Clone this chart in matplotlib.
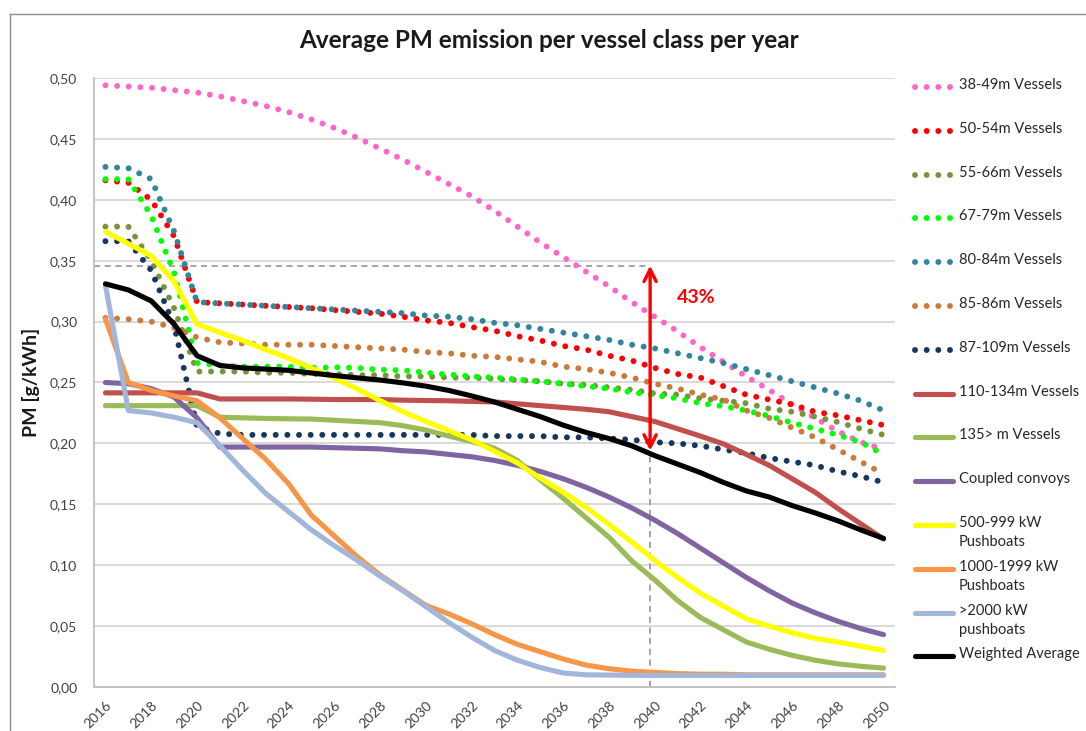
import numpy as np
import matplotlib
matplotlib.use("Agg")
from matplotlib import pyplot as plt
from matplotlib.lines import Line2D

plt.rcParams['font.family'] = ['Lato', 'DejaVu Sans']

years = list(range(2016, 2051))
tick_years = list(range(2016, 2051, 2))

# dotted series (vessel length classes)
v38_49 = [.494, .493, .492, .490, .488, .485, .481, .477, .472, .466,
          .459, .451, .442, .433, .423, .413, .403, .391, .378, .365,
          .353, .341, .329, .316, .304, .292, .279, .267, .255, .244,
          .232, .221, .210, .201, .195]
v50_54 = [.416, .414, .400, .370, .316, .315, .314, .313, .312, .311,
          .3095, .308, .3065, .304, .301, .299, .2955, .2925, .288, .2845,
          .280, .277, .272, .268, .262, .257, .254, .247, .240, .236,
          .232, .226, .223, .219, .215]
v55_66 = [.378, .378, .350, .311, .259, .259, .259, .258, .258, .257,
          .257, .256, .256, .255, .255, .254, .254, .253, .252, .251,
          .249, .248, .246, .244, .241, .240, .237, .235, .233, .2285,
          .226, .222, .2175, .212, .207]
v67_79 = [.417, .417, .387, .340, .266, .264, .263, .263, .263, .262,
          .2625, .262, .2605, .260, .258, .2565, .255, .254, .2525, .251,
          .249, .247, .245, .242, .2395, .237, .233, .2305, .227, .2225,
          .217, .212, .207, .201, .191]
v80_84 = [.427, .426, .417, .374, .316, .315, .314, .313, .312, .311,
          .310, .309, .308, .307, .305, .304, .302, .299, .297, .294,
          .291, .288, .285, .281, .278, .274, .270, .266, .261, .256,
          .251, .246, .241, .235, .227]
v85_86 = [.303, .302, .300, .295, .287, .283, .282, .281, .281, .281,
          .280, .279, .278, .277, .275, .274, .272, .271, .269, .267,
          .263, .261, .258, .254, .249, .245, .240, .236, .227, .221,
          .213, .205, .195, .185, .175]
v87_109 = [.366, .366, .342, .297, .214, .208, .207, .207, .207, .207,
           .207, .207, .207, .207, .207, .207, .207, .206, .206, .206,
           .205, .205, .204, .203, .201, .200, .198, .195, .192, .188,
           .185, .182, .177, .173, .168]

# solid series
v110_134 = [.2415, .2415, .2415, .2415, .2415, .2365, .2365, .2365, .2365, .2363,
            .236, .236, .236, .2355, .2352, .235, .2345, .234, .2325, .231,
            .2295, .228, .226, .222, .218, .212, .206, .1996, .191, .182,
            .171, .160, .1466, .134, .1215]
v135 = [.231, .231, .231, .231, .231, .2215, .221, .2205, .2202, .220,
        .219, .218, .217, .2145, .211, .206, .2015, .196, .186, .170,
        .155, .139, .123, .1035, .088, .071, .057, .047, .037, .031,
        .026, .022, .019, .017, .0155]
coupled = [.250, .249, .245, .238, .221, .197, .197, .197, .197, .197,
           .1965, .196, .1955, .194, .193, .191, .189, .186, .182, .177,
           .171, .164, .156, .147, .137, .126, .114, .102, .090, .079,
           .069, .061, .054, .048, .043]
push500 = [.374, .364, .354, .333, .298, .291, .2845, .277, .270, .262,
           .2535, .2447, .2352, .226, .218, .2105, .203, .1935, .184, .1715,
           .160, .1475, .1336, .119, .104, .090, .077, .0665, .056, .050,
           .0445, .040, .037, .0335, .030]
push1000 = [.302, .250, .2435, .239, .235, .221, .204, .187, .167, .141,
            .124, .107, .092, .0795, .067, .060, .052, .043, .035, .029,
            .023, .018, .015, .013, .012, .011, .0105, .0105, .010, .010,
            .010, .010, .010, .010, .010]
push2000 = [.330, .227, .225, .2215, .217, .198, .178, .159, .144, .129,
            .116, .104, .091, .079, .066, .053, .041, .030, .022, .016,
            .0115, .010, .0098, .0096, .0095, .0095, .0095, .0095, .0095, .0095,
            .0095, .0095, .0095, .0095, .0095]
weighted = [.331, .326, .317, .298, .272, .264, .262, .261, .260, .2578,
            .2557, .2538, .252, .2497, .247, .2435, .239, .234, .228, .222,
            .215, .209, .204, .198, .190, .183, .176, .168, .161, .156,
            .149, .143, .1365, .129, .122]

arrow_year = 2039.8
arrow_top = 0.346
arrow_bottom = 0.194

series = [
    ("38-49m Vessels", v38_49, '#FF66CC', 'dot'),
    ("50-54m Vessels", v50_54, '#FF0000', 'dot'),
    ("55-66m Vessels", v55_66, '#77933C', 'dot'),
    ("67-79m Vessels", v67_79, '#00FF00', 'dot'),
    ("80-84m Vessels", v80_84, '#31859C', 'dot'),
    ("85-86m Vessels", v85_86, '#CC7A3A', 'dot'),
    ("87-109m Vessels", v87_109, '#17375E', 'dot'),
    ("110-134m Vessels", v110_134, '#C0504D', 'solid'),
    ("135> m Vessels", v135, '#9BBB59', 'solid'),
    ("Coupled convoys", coupled, '#8064A2', 'solid'),
    ("500-999 kW\nPushboats", push500, '#FFFF00', 'solid'),
    ("1000-1999 kW\nPushboats", push1000, '#F79646', 'solid'),
    (">2000 kW\npushboats", push2000, '#A2B6D9', 'solid'),
    ("Weighted Average", weighted, '#000000', 'solid'),
]

W, H = 1086, 731
fig = plt.figure(figsize=(W / 100, H / 100), dpi=100)
ax = fig.add_axes([94 / W, 1 - 687 / H, (895 - 94) / W, (687 - 78) / H])


def style(color, kind):
    if kind == 'dot':
        return dict(color=color, lw=4.3, linestyle=(0, (0.001, 1.95)),
                    dash_capstyle='round', solid_capstyle='round')
    return dict(color=color, lw=3.7, solid_capstyle='round',
                solid_joinstyle='round')


for i, (name, vals, color, kind) in enumerate(series):
    ax.plot(years, vals, zorder=3 + i * 0.01, **style(color, kind))

ax.set_xlim(2015.5, 2050.5)
ax.set_ylim(0, 0.5)
yt = np.arange(0, 0.501, 0.05)
ax.set_yticks(yt)
ax.set_yticklabels([f"{v:.2f}".replace('.', ',') for v in yt])
ax.set_xticks(tick_years)
ax.set_xticklabels([str(y) for y in tick_years], rotation=45, ha='right',
                   va='top', rotation_mode='anchor')
ax.tick_params(axis='y', length=0, pad=12, labelsize=10, labelcolor='#404040')
ax.tick_params(axis='x', length=0, pad=9, labelsize=10, labelcolor='#404040')
ax.yaxis.grid(True, color='#D9D9D9', lw=1.4)
ax.set_axisbelow(True)
for s in ['top', 'right']:
    ax.spines[s].set_visible(False)
for s in ['left', 'bottom']:
    ax.spines[s].set_color('#BFBFBF')
    ax.spines[s].set_linewidth(1.3)

ax.set_ylabel("PM [g/kWh]", fontsize=14, fontweight='bold', color='#1a1a1a')
ax.yaxis.set_label_coords(-0.068, 0.5)

# annotation: 43% reduction
ax.plot([2015.5, arrow_year], [arrow_top, arrow_top], color='#8C8C8C',
        lw=1.1, linestyle=(0, (4, 3)), zorder=2)
ax.plot([arrow_year, arrow_year], [0, arrow_bottom], color='#8C8C8C',
        lw=1.1, linestyle=(0, (4, 3)), zorder=2)
ax.annotate('', xy=(arrow_year, arrow_bottom), xytext=(arrow_year, arrow_top),
            arrowprops=dict(arrowstyle='<->', color='red', lw=2.4,
                            mutation_scale=22, shrinkA=0, shrinkB=0),
            zorder=6)
ax.text(2041.8, 0.32, "43%", color='red', fontsize=14, fontweight='bold',
        ha='center', va='center', zorder=6)

fig.text(549 / W, 1 - 41 / H, "Average PM emission per vessel class per year",
         ha='center', va='center', fontsize=17.5, fontweight='bold',
         color='#1a1a1a')

# legend drawn by hand to keep Excel-style uniform row spacing
for i, (name, vals, color, kind) in enumerate(series):
    ry = 1 - (87 + i * 43.8) / H
    fig.add_artist(Line2D([915 / W, 953 / W], [ry, ry],
                          transform=fig.transFigure, **style(color, kind)))
    fig.text(959 / W, ry + 9 / H, name, ha='left', va='top', fontsize=10.5,
             color='#262626', linespacing=1.45)

# chart area border
fig.add_artist(Line2D([10 / W, 10 / W], [0, 1 - 14 / H], transform=fig.transFigure,
                      color='#8C8C8C', lw=1))
fig.add_artist(Line2D([10 / W, 1], [1 - 14 / H, 1 - 14 / H],
                      transform=fig.transFigure, color='#8C8C8C', lw=1))

fig.savefig("out.png", dpi=100)
